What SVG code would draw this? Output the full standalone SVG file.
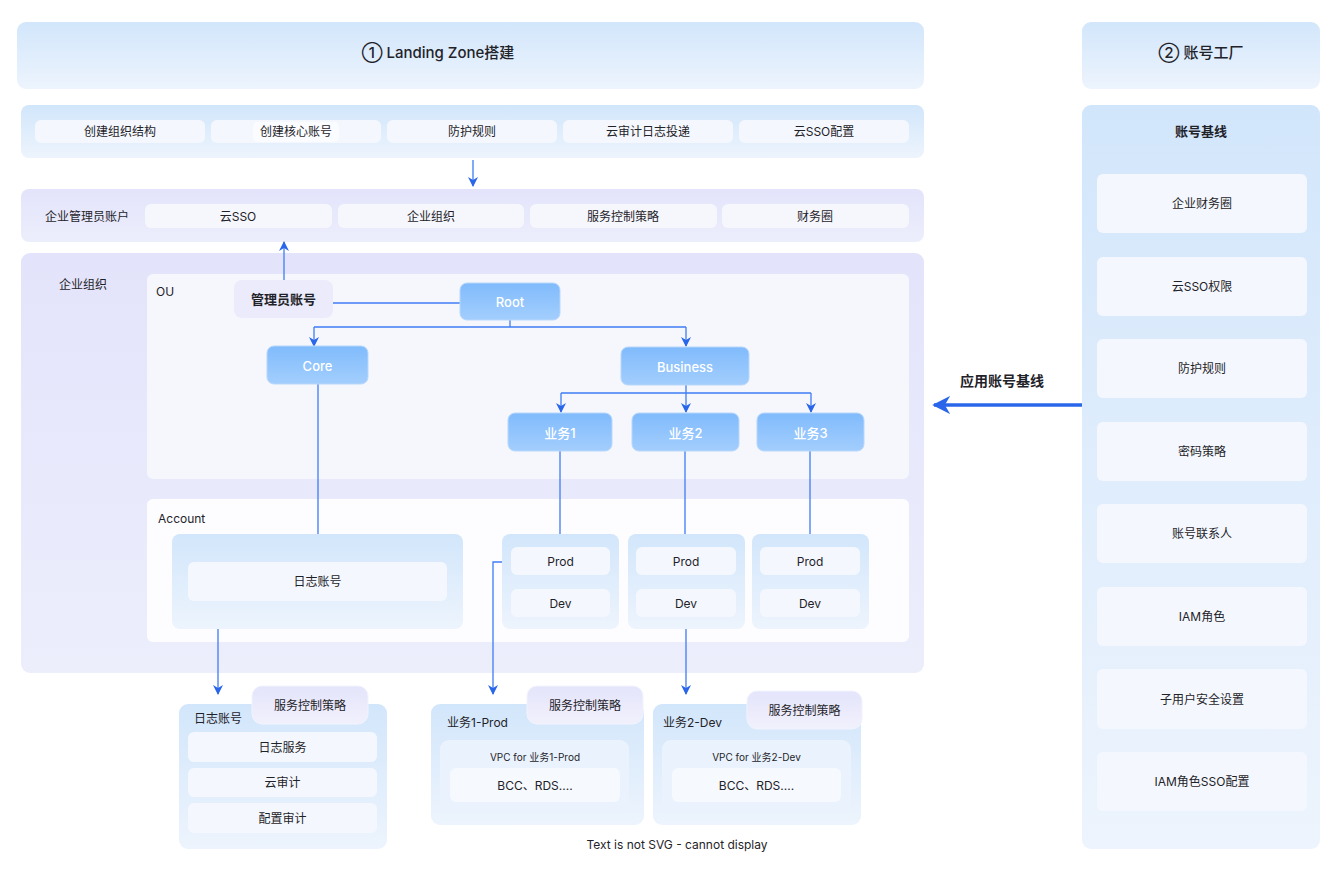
<svg xmlns="http://www.w3.org/2000/svg" width="1337" height="877" viewBox="0 0 1337 877">
<defs>
<linearGradient id="gBlue" x1="0" y1="0" x2="0" y2="1"><stop offset="0" stop-color="#d2e6fb"/><stop offset="1" stop-color="#edf4fd"/></linearGradient>
<linearGradient id="gLav" x1="0" y1="0" x2="0" y2="1"><stop offset="0" stop-color="#e3e4fb"/><stop offset="1" stop-color="#eceefc"/></linearGradient>
<linearGradient id="gNode" x1="0" y1="0" x2="0" y2="1"><stop offset="0" stop-color="#80bbfc"/><stop offset="1" stop-color="#a3cefd"/></linearGradient>
<linearGradient id="gTab" x1="0" y1="0" x2="0" y2="1"><stop offset="0" stop-color="#e4e4fb"/><stop offset="1" stop-color="#f1f1fd"/></linearGradient>
<marker id="ah" viewBox="0 0 10 10" refX="9" refY="5" markerWidth="10" markerHeight="10" markerUnits="userSpaceOnUse" orient="auto"><path d="M0,0 L10,5 L0,10 L3,5 Z" fill="#2a66ea"/></marker>
<marker id="ahBig" viewBox="0 0 10 10" refX="9" refY="5" markerWidth="18" markerHeight="18" markerUnits="userSpaceOnUse" orient="auto"><path d="M0,0 L10,5 L0,10 L3,5 Z" fill="#2a66ea"/></marker>
</defs>
<style>
text{font-family:Inter,"Noto Sans CJK SC",sans-serif;fill:#1f2329;}
.t12{font-size:12px;text-anchor:middle;dominant-baseline:central;}
.t11{font-size:11px;text-anchor:middle;dominant-baseline:central;}
.l12{font-size:12px;dominant-baseline:central;}
.title{font-size:15px;font-weight:500;text-anchor:middle;dominant-baseline:central;}
.bold{font-size:13px;font-weight:700;text-anchor:middle;dominant-baseline:central;}
.wt{font-size:13px;font-weight:500;text-anchor:middle;dominant-baseline:central;fill:#ffffff;}
.panelB{fill:url(#gBlue);}
.panelL{fill:url(#gLav);}
.chip{fill:#f4f8fe;}
.chipL{fill:#f6f7fd;}
.node{fill:url(#gNode);stroke:#b7d7fb;stroke-width:1;}
.tab{fill:url(#gTab);stroke:#f2f3fd;stroke-width:1;}
.ln{fill:none;stroke:#3f7cf5;stroke-width:1.3;}
.arr{fill:none;stroke:#3f7cf5;stroke-width:1.3;marker-end:url(#ah);}
</style>

<g id="header-landing">
<rect x="17" y="22" width="907" height="67" rx="9" class="panelB"/>
<text x="438" y="52" class="title">① Landing Zone搭建</text>
</g>
<g id="header-factory">
<rect x="1082" y="22" width="238" height="67" rx="9" class="panelB"/>
<text x="1201" y="52" class="title">② 账号工厂</text>
</g>

<g id="steps">
<rect x="21" y="105" width="903" height="53" rx="8" class="panelB"/>
<rect x="35" y="120" width="170" height="23" rx="6" class="chip"/>
<text x="120" y="131.5" class="t12">创建组织结构</text>
<rect x="211" y="120" width="170" height="23" rx="6" class="chip"/>
<rect x="253" y="122" width="86" height="20" rx="5" fill="#fafcff"/>
<text x="296" y="131.5" class="t12">创建核心账号</text>
<rect x="387" y="120" width="170" height="23" rx="6" class="chip"/>
<text x="472" y="131.5" class="t12">防护规则</text>
<rect x="563" y="120" width="170" height="23" rx="6" class="chip"/>
<text x="648" y="131.5" class="t12">云审计日志投递</text>
<rect x="739" y="120" width="170" height="23" rx="6" class="chip"/>
<text x="824" y="131.5" class="t12">云SSO配置</text>
</g>

<g id="admin-account-row">
<rect x="21" y="189" width="903" height="53" rx="8" class="panelL"/>
<text x="87" y="216" class="t12">企业管理员账户</text>
<rect x="145" y="204" width="187" height="24" rx="6" class="chipL"/>
<text x="238" y="216" class="t12">云SSO</text>
<rect x="338" y="204" width="186" height="24" rx="6" class="chipL"/>
<text x="431" y="216" class="t12">企业组织</text>
<rect x="530" y="204" width="187" height="24" rx="6" class="chipL"/>
<text x="623" y="216" class="t12">服务控制策略</text>
<rect x="722" y="204" width="187" height="24" rx="6" class="chipL"/>
<text x="815" y="216" class="t12">财务圈</text>
</g>

<g id="org-panel">
<rect x="21" y="253" width="903" height="420" rx="9" class="panelL"/>
<text x="83" y="284" class="t12">企业组织</text>
<rect x="147" y="274" width="762" height="205" rx="6" fill="#f6f7fd"/>
<text x="156" y="291" class="l12">OU</text>
<rect x="147" y="499" width="762" height="143" rx="6" fill="#fdfdff"/>
<text x="158" y="518" class="l12">Account</text>
</g>

<g id="connectors">
<path class="arr" d="M473,160 V186"/>
<path class="arr" d="M284,280 V242"/>
<path class="ln" d="M333,303 H460"/>
<path class="ln" d="M510,320 V327 M314,327 H686"/>
<path class="arr" d="M314,327 V346"/>
<path class="arr" d="M686,327 V346"/>
<path class="ln" d="M686,385 V393 M561,393 H811"/>
<path class="arr" d="M561,393 V412"/>
<path class="arr" d="M686,393 V412"/>
<path class="arr" d="M811,393 V412"/>
<path class="ln" d="M318,384 V534"/>
<path class="ln" d="M560,451 V534"/>
<path class="ln" d="M685,451 V534"/>
<path class="ln" d="M810,451 V534"/>
<path class="arr" d="M218,601 V694"/>
<path class="arr" d="M511,562 H493 V694"/>
<path class="arr" d="M686,617 V694"/>
<path d="M1082,405 H934" fill="none" stroke="#2a66ea" stroke-width="3.5" marker-end="url(#ahBig)"/>
<text x="1002" y="380" class="bold" style="font-size:14px">应用账号基线</text>
</g>

<g id="node-admin">
<rect x="234" y="280" width="99" height="38" rx="8" fill="#ebebfb"/>
<text x="283.5" y="299" class="bold">管理员账号</text>
</g>
<g id="node-root">
<rect x="460" y="283" width="100" height="37" rx="7" class="node"/>
<text x="510" y="302" class="wt">Root</text>
</g>
<g id="node-core">
<rect x="267" y="346" width="101" height="38" rx="7" class="node"/>
<text x="317.5" y="366" class="wt">Core</text>
</g>
<g id="node-business">
<rect x="621" y="347" width="128" height="38" rx="7" class="node"/>
<text x="685" y="367" class="wt">Business</text>
</g>
<g id="node-biz1">
<rect x="508" y="413" width="104" height="38" rx="7" class="node"/>
<text x="560" y="433" class="wt">业务1</text>
</g>
<g id="node-biz2">
<rect x="632" y="413" width="107" height="38" rx="7" class="node"/>
<text x="685.5" y="433" class="wt">业务2</text>
</g>
<g id="node-biz3">
<rect x="757" y="413" width="107" height="38" rx="7" class="node"/>
<text x="810.5" y="433" class="wt">业务3</text>
</g>

<g id="acct-log">
<rect x="172" y="534" width="291" height="95" rx="8" class="panelB"/>
<rect x="188" y="562" width="259" height="39" rx="6" class="chip"/>
<text x="317.5" y="581.5" class="t12">日志账号</text>
</g>
<g id="acct-biz1">
<rect x="502" y="534" width="117" height="95" rx="8" class="panelB"/>
<rect x="511" y="547" width="99" height="28" rx="6" class="chip"/>
<text x="560.5" y="561.5" class="t12">Prod</text>
<rect x="511" y="589" width="99" height="28" rx="6" class="chip"/>
<text x="560.5" y="603.5" class="t12">Dev</text>
</g>
<g id="acct-biz2">
<rect x="628" y="534" width="117" height="95" rx="8" class="panelB"/>
<rect x="636" y="547" width="100" height="28" rx="6" class="chip"/>
<text x="686" y="561.5" class="t12">Prod</text>
<rect x="636" y="589" width="100" height="28" rx="6" class="chip"/>
<text x="686" y="603.5" class="t12">Dev</text>
</g>
<g id="acct-biz3">
<rect x="752" y="534" width="117" height="95" rx="8" class="panelB"/>
<rect x="760" y="547" width="100" height="28" rx="6" class="chip"/>
<text x="810" y="561.5" class="t12">Prod</text>
<rect x="760" y="589" width="100" height="28" rx="6" class="chip"/>
<text x="810" y="603.5" class="t12">Dev</text>
</g>

<g id="detail-log">
<rect x="179" y="704" width="208" height="145" rx="9" class="panelB"/>
<text x="194" y="718" class="l12">日志账号</text>
<rect x="252" y="686" width="116" height="38" rx="10" class="tab"/>
<text x="310" y="705" class="t12">服务控制策略</text>
<rect x="188" y="732" width="189" height="30" rx="6" class="chip"/>
<text x="282.5" y="747" class="t12">日志服务</text>
<rect x="188" y="768" width="189" height="29" rx="6" class="chip"/>
<text x="282.5" y="782.5" class="t12">云审计</text>
<rect x="188" y="803" width="189" height="30" rx="6" class="chip"/>
<text x="282.5" y="818" class="t12">配置审计</text>
</g>
<g id="detail-biz1-prod">
<rect x="431" y="704" width="213" height="121" rx="9" class="panelB"/>
<text x="447" y="722" class="l12">业务1-Prod</text>
<rect x="527" y="686" width="116" height="38" rx="10" class="tab"/>
<text x="585" y="705" class="t12">服务控制策略</text>
<rect x="440" y="740" width="189" height="72" rx="9" fill="#eaf3fd"/>
<text x="535" y="757" class="t11" style="font-size:10px">VPC for 业务1-Prod</text>
<rect x="450" y="768" width="170" height="34" rx="6" fill="#f6f9fe"/>
<text x="535" y="785" class="t12">BCC、RDS....</text>
</g>
<g id="detail-biz2-dev">
<rect x="653" y="704" width="208" height="121" rx="9" class="panelB"/>
<text x="663" y="722" class="l12">业务2-Dev</text>
<rect x="747" y="691" width="115" height="38" rx="10" class="tab"/>
<text x="804.5" y="710" class="t12">服务控制策略</text>
<rect x="662" y="740" width="189" height="72" rx="9" fill="#eaf3fd"/>
<text x="756.5" y="757" class="t11" style="font-size:10px">VPC for 业务2-Dev</text>
<rect x="672" y="768" width="169" height="34" rx="6" fill="#f6f9fe"/>
<text x="756.5" y="785" class="t12">BCC、RDS....</text>
</g>
<text x="677" y="844" class="t12">Text is not SVG - cannot display</text>

<g id="baseline">
<rect x="1082" y="105" width="238" height="744" rx="9" class="panelB"/>
<text x="1201" y="131" class="bold">账号基线</text>
<rect x="1097" y="174" width="210" height="59" rx="6" class="chip"/>
<text x="1202" y="203.5" class="t12">企业财务圈</text>
<rect x="1097" y="257" width="210" height="59" rx="6" class="chip"/>
<text x="1202" y="286.5" class="t12">云SSO权限</text>
<rect x="1097" y="339" width="210" height="59" rx="6" class="chip"/>
<text x="1202" y="368.5" class="t12">防护规则</text>
<rect x="1097" y="422" width="210" height="59" rx="6" class="chip"/>
<text x="1202" y="451.5" class="t12">密码策略</text>
<rect x="1097" y="504" width="210" height="59" rx="6" class="chip"/>
<text x="1202" y="533.5" class="t12">账号联系人</text>
<rect x="1097" y="587" width="210" height="59" rx="6" class="chip"/>
<text x="1202" y="616.5" class="t12">IAM角色</text>
<rect x="1097" y="669" width="210" height="60" rx="6" class="chip"/>
<text x="1202" y="699" class="t12">子用户安全设置</text>
<rect x="1097" y="752" width="210" height="59" rx="6" class="chip"/>
<text x="1202" y="781.5" class="t12">IAM角色SSO配置</text>
</g>
</svg>
